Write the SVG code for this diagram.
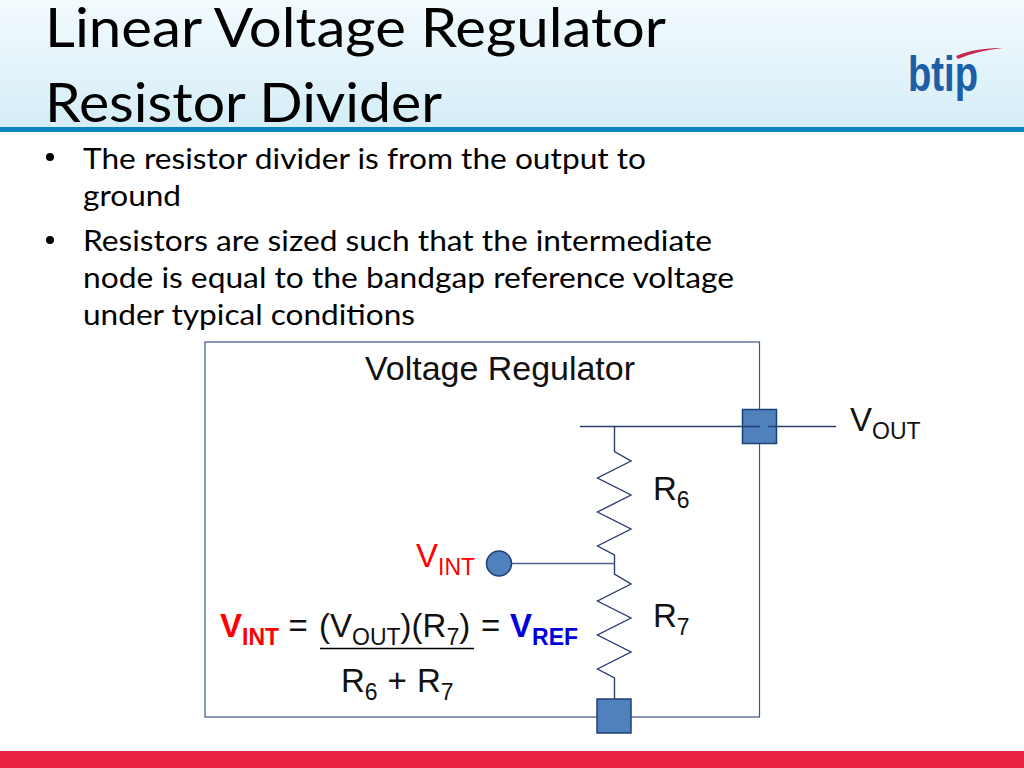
<svg xmlns="http://www.w3.org/2000/svg" width="1024" height="768" viewBox="0 0 1024 768">
<style>
.t{font-family:"Lato","Open Sans",sans-serif;fill:#000}
.title{font-size:55px}
.body{font-size:29px}
.a{font-family:"Liberation Sans",Arial,sans-serif;fill:#111}
.w{fill:none;stroke:#2a3f70;stroke-width:1.4}
.frame{fill:none;stroke:#3f5488;stroke-width:1.2}
.lead{fill:none;stroke:#4a5f90;stroke-width:1.6}
.pad{fill:#4f81bd;stroke:#1f3f78;stroke-width:1.5}
</style>
<defs><linearGradient id="hdr" x1="0" y1="0" x2="0" y2="1"><stop offset="0" stop-color="#f3fbfe"/><stop offset="1" stop-color="#d5edf7"/></linearGradient></defs>
<rect width="1024" height="768" fill="#fff"/>
<rect id="header" width="1024" height="127" fill="url(#hdr)"/>
<rect y="127" width="1024" height="5" fill="#0a86c0"/>
<rect id="footer" y="751" width="1024" height="17" fill="#ea2345"/>
<g id="logo">
<text x="908" y="91" font-family="Liberation Sans,sans-serif" font-weight="bold" font-size="50" fill="#1d5ea6" textLength="70" lengthAdjust="spacingAndGlyphs">btip</text>
<path d="M956 56C970 50 986 48 1003 48C986 50 972 53 958 59Z" fill="#c8264a"/>
</g>
<g id="title">
<text class="t title" x="45" y="47" textLength="621" lengthAdjust="spacingAndGlyphs">Linear Voltage Regulator</text>
<text class="t title" x="45" y="122" textLength="397" lengthAdjust="spacingAndGlyphs">Resistor Divider</text>
</g>
<g id="bullets">
<circle cx="50" cy="157" r="4"/><circle cx="50" cy="240" r="4"/>
<text class="t body" x="83" y="169" textLength="563" lengthAdjust="spacingAndGlyphs">The resistor divider is from the output to</text>
<text class="t body" x="83" y="206" textLength="98" lengthAdjust="spacingAndGlyphs">ground</text>
<text class="t body" x="83" y="251" textLength="629" lengthAdjust="spacingAndGlyphs">Resistors are sized such that the intermediate</text>
<text class="t body" x="83" y="288" textLength="651" lengthAdjust="spacingAndGlyphs">node is equal to the bandgap reference voltage</text>
<text class="t body" x="83" y="325" textLength="332" lengthAdjust="spacingAndGlyphs">under typical conditions</text>
</g>
<g id="connectors">
<rect class="frame" x="205" y="342" width="554.500" height="375"/>
<path class="w" d="M580 426.500H760M768 426.500H836"/>
<path class="w" d="M614.500 426.500V451.500L631 461L597.500 478L631 495L597.500 512L631 529L597.500 546L614.500 555V574L631 584L597.500 601L631 618L597.500 635L631 652L597.500 669L614.500 678V699"/>
<path class="lead" d="M512 563.500H614.500"/>
</g>
<g id="regulator-label"><text class="a" x="365" y="380" font-size="33" textLength="270" lengthAdjust="spacingAndGlyphs">Voltage Regulator</text></g>
<g id="pad-vout"><rect class="pad" x="742.500" y="409.500" width="34" height="34"/><path class="w" d="M742.500 426.500H760M768 426.500H776.500"/></g>
<g id="pad-gnd"><rect class="pad" x="597" y="699" width="34" height="34"/></g>
<g id="node-vint"><circle class="pad" cx="499" cy="563.500" r="12.500"/></g>
<g id="label-vout"><text class="a" x="850" y="431" font-size="33">V<tspan font-size="23" dy="8">OUT</tspan></text></g>
<g id="label-r6"><text class="a" x="653" y="500" font-size="33">R<tspan font-size="23" dy="8">6</tspan></text></g>
<g id="label-r7"><text class="a" x="653" y="627" font-size="33">R<tspan font-size="23" dy="8">7</tspan></text></g>
<g id="label-vint"><text class="a" x="416" y="567" font-size="33" style="fill:#f00">V<tspan font-size="23" dy="8">INT</tspan></text></g>
<g id="equation">
<text class="a" x="220" y="637" font-size="33"><tspan font-weight="bold" style="fill:#f00">V</tspan><tspan font-weight="bold" font-size="23" dy="8" style="fill:#f00">INT</tspan><tspan dy="-8" x="288.500">=</tspan><tspan x="319">(V</tspan><tspan font-size="23" dy="8">OUT</tspan><tspan dy="-8">)(R</tspan><tspan font-size="23" dy="8">7</tspan><tspan dy="-8">)</tspan><tspan x="481">=</tspan><tspan x="510" font-weight="bold" style="fill:#00d">V</tspan><tspan font-weight="bold" font-size="23" dy="8" style="fill:#00d">REF</tspan></text>
<path d="M320 648.500H474" stroke="#000" stroke-width="1.500"/>
<text class="a" x="341" y="692" font-size="33">R<tspan font-size="23" dy="8">6</tspan><tspan dy="-8" x="387.500">+</tspan><tspan x="417">R</tspan><tspan font-size="23" dy="8">7</tspan></text>
</g>
</svg>
